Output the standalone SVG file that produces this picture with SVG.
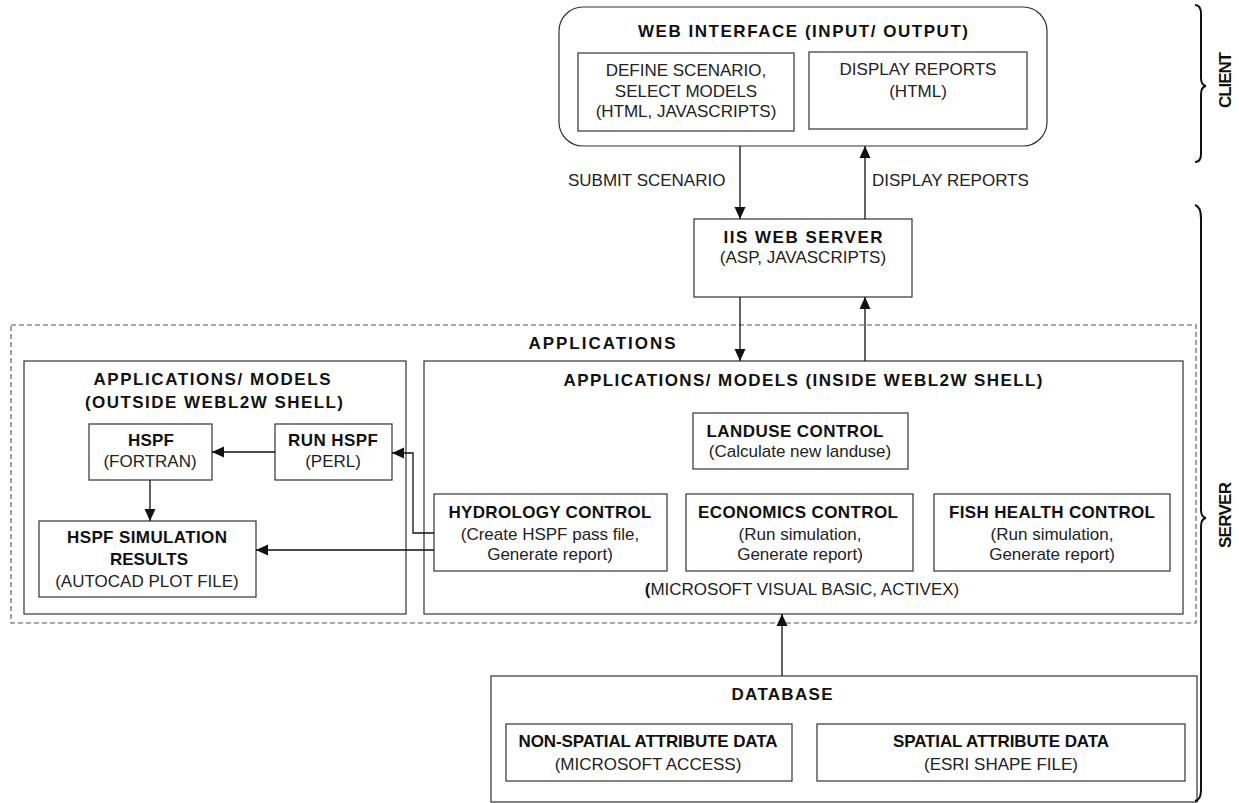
<svg xmlns="http://www.w3.org/2000/svg" width="1239" height="803" viewBox="0 0 1239 803">
  <style>
    .box { fill: #fff; stroke: #333; stroke-width: 1.2; }
    .dash { fill: none; stroke: #555; stroke-width: 1.1; stroke-dasharray: 5 3; }
    .t { font-family: "Liberation Sans", Arial, sans-serif; font-size: 17px; fill: #222; text-anchor: middle; }
    .b { font-weight: bold; fill: #111; }
    .l { text-anchor: start; }
    .wire { fill: none; stroke: #111; stroke-width: 1.3; }
    .brace { fill: none; stroke: #111; stroke-width: 2; }
  </style>
  <defs>
    <marker id="ah" viewBox="0 0 12 12" refX="12" refY="6" markerWidth="12" markerHeight="12" markerUnits="userSpaceOnUse" orient="auto">
      <path d="M0,0.5 L12,6 L0,11.5 z" fill="#111"/>
    </marker>
  </defs>
  <rect width="1239" height="803" fill="#fff"/>

  <!-- client tier -->
  <g id="web-interface">
    <rect class="box" x="559" y="7" width="488" height="139" rx="24" ry="24"/>
    <text class="t b" x="803" y="37" textLength="330" lengthAdjust="spacing">WEB INTERFACE (INPUT/ OUTPUT)</text>
  </g>
  <g id="define-scenario">
    <rect class="box" x="578" y="53" width="216" height="78"/>
    <text class="t" x="686" y="76">DEFINE SCENARIO,</text>
    <text class="t" x="686" y="97">SELECT MODELS</text>
    <text class="t" x="686" y="117">(HTML, JAVASCRIPTS)</text>
  </g>
  <g id="display-reports">
    <rect class="box" x="809" y="52" width="218" height="77"/>
    <text class="t" x="918" y="75">DISPLAY REPORTS</text>
    <text class="t" x="918" y="97">(HTML)</text>
  </g>

  <!-- web server -->
  <g id="iis-web-server">
    <rect class="box" x="694" y="219" width="218" height="78"/>
    <text class="t b" x="803" y="243" textLength="159" lengthAdjust="spacing">IIS WEB SERVER</text>
    <text class="t" x="803" y="263">(ASP, JAVASCRIPTS)</text>
  </g>

  <!-- applications layer -->
  <g id="applications">
    <rect class="dash" x="11" y="325" width="1185" height="298"/>
    <text class="t b" x="602" y="349" textLength="147" lengthAdjust="spacing">APPLICATIONS</text>
  </g>

  <g id="outside-shell">
    <rect class="box" x="24" y="361" width="382" height="253"/>
    <text class="t b" x="212" y="385" textLength="237" lengthAdjust="spacing">APPLICATIONS/ MODELS</text>
    <text class="t b" x="214" y="408" textLength="258" lengthAdjust="spacing">(OUTSIDE WEBL2W SHELL)</text>
  </g>
  <g id="hspf">
    <rect class="box" x="89" y="424" width="123" height="56"/>
    <text class="t b" x="151" y="446" textLength="46" lengthAdjust="spacing">HSPF</text>
    <text class="t" x="150" y="467">(FORTRAN)</text>
  </g>
  <g id="run-hspf">
    <rect class="box" x="275" y="424" width="117" height="56"/>
    <text class="t b" x="333" y="446" textLength="90" lengthAdjust="spacing">RUN HSPF</text>
    <text class="t" x="333" y="467">(PERL)</text>
  </g>
  <g id="hspf-results">
    <rect class="box" x="39" y="521" width="217" height="76"/>
    <text class="t b" x="147" y="543" textLength="160" lengthAdjust="spacing">HSPF SIMULATION</text>
    <text class="t b" x="149" y="565" textLength="78" lengthAdjust="spacing">RESULTS</text>
    <text class="t" x="147" y="587">(AUTOCAD PLOT FILE)</text>
  </g>

  <g id="inside-shell">
    <rect class="box" x="424" y="361" width="759" height="253"/>
    <text class="t b" x="803" y="386" textLength="479" lengthAdjust="spacing">APPLICATIONS/ MODELS (INSIDE WEBL2W SHELL)</text>
    <text class="t" x="802" y="595"><tspan class="b">(</tspan>MICROSOFT VISUAL BASIC, ACTIVEX)</text>
  </g>
  <g id="landuse-control">
    <rect class="box" x="693" y="413" width="215" height="56"/>
    <text class="t b" x="795" y="437" textLength="177" lengthAdjust="spacing">LANDUSE CONTROL</text>
    <text class="t" x="800" y="457">(Calculate new landuse)</text>
  </g>
  <g id="hydrology-control">
    <rect class="box" x="434" y="494" width="233" height="77"/>
    <text class="t b" x="550" y="518" textLength="203" lengthAdjust="spacing">HYDROLOGY CONTROL</text>
    <text class="t" x="550" y="540">(Create HSPF pass file,</text>
    <text class="t" x="550" y="560">Generate report)</text>
  </g>
  <g id="economics-control">
    <rect class="box" x="686" y="494" width="227" height="77"/>
    <text class="t b" x="798" y="518" textLength="200" lengthAdjust="spacing">ECONOMICS CONTROL</text>
    <text class="t" x="800" y="540">(Run simulation,</text>
    <text class="t" x="800" y="560">Generate report)</text>
  </g>
  <g id="fish-health-control">
    <rect class="box" x="934" y="494" width="236" height="77"/>
    <text class="t b" x="1052" y="518" textLength="206" lengthAdjust="spacing">FISH HEALTH CONTROL</text>
    <text class="t" x="1052" y="540">(Run simulation,</text>
    <text class="t" x="1052" y="560">Generate report)</text>
  </g>

  <!-- data layer -->
  <g id="database">
    <rect class="box" x="491" y="676" width="706" height="126"/>
    <text class="t b" x="782" y="700" textLength="101" lengthAdjust="spacing">DATABASE</text>
  </g>
  <g id="non-spatial-data">
    <rect class="box" x="506" y="724" width="286" height="57"/>
    <text class="t b" x="648" y="747" textLength="259" lengthAdjust="spacing">NON-SPATIAL ATTRIBUTE DATA</text>
    <text class="t" x="648" y="770">(MICROSOFT ACCESS)</text>
  </g>
  <g id="spatial-data">
    <rect class="box" x="817" y="724" width="368" height="57"/>
    <text class="t b" x="1001" y="747" textLength="216" lengthAdjust="spacing">SPATIAL ATTRIBUTE DATA</text>
    <text class="t" x="1001" y="770">(ESRI SHAPE FILE)</text>
  </g>

  <!-- connectors -->
  <g id="connectors">
    <path class="wire" d="M740,146 L740,219" marker-end="url(#ah)"/>
    <path class="wire" d="M865,219 L865,146" marker-end="url(#ah)"/>
    <path class="wire" d="M740,297 L740,361" marker-end="url(#ah)"/>
    <path class="wire" d="M865,361 L865,297" marker-end="url(#ah)"/>
    <path class="wire" d="M782,676 L782,614" marker-end="url(#ah)"/>
    <path class="wire" d="M275,452 L212,452" marker-end="url(#ah)"/>
    <path class="wire" d="M150,480 L150,521" marker-end="url(#ah)"/>
    <path class="wire" d="M434,533 L413,533 L413,453 L392,453" marker-end="url(#ah)"/>
    <path class="wire" d="M434,550 L256,550" marker-end="url(#ah)"/>
    <text class="t l" x="568" y="186">SUBMIT SCENARIO</text>
    <text class="t l" x="872" y="186">DISPLAY REPORTS</text>
  </g>

  <!-- tier braces -->
  <g id="client-brace">
    <path class="brace" d="M1195,5 Q1201,5 1201,14 L1201,78 Q1201,85 1206,86 Q1201,87 1201,94 L1201,154 Q1201,162 1195,162"/>
    <text class="t b" x="0" y="0" transform="translate(1231,80) rotate(-90)" textLength="56" lengthAdjust="spacing">CLIENT</text>
  </g>
  <g id="server-brace">
    <path class="brace" d="M1195,205 Q1201,207 1201,218 L1201,510 Q1201,517 1206,518 Q1201,519 1201,526 L1201,790 Q1201,800 1195,801"/>
    <text class="t b" x="0" y="0" transform="translate(1231,515) rotate(-90)" textLength="66" lengthAdjust="spacing">SERVER</text>
  </g>
</svg>
